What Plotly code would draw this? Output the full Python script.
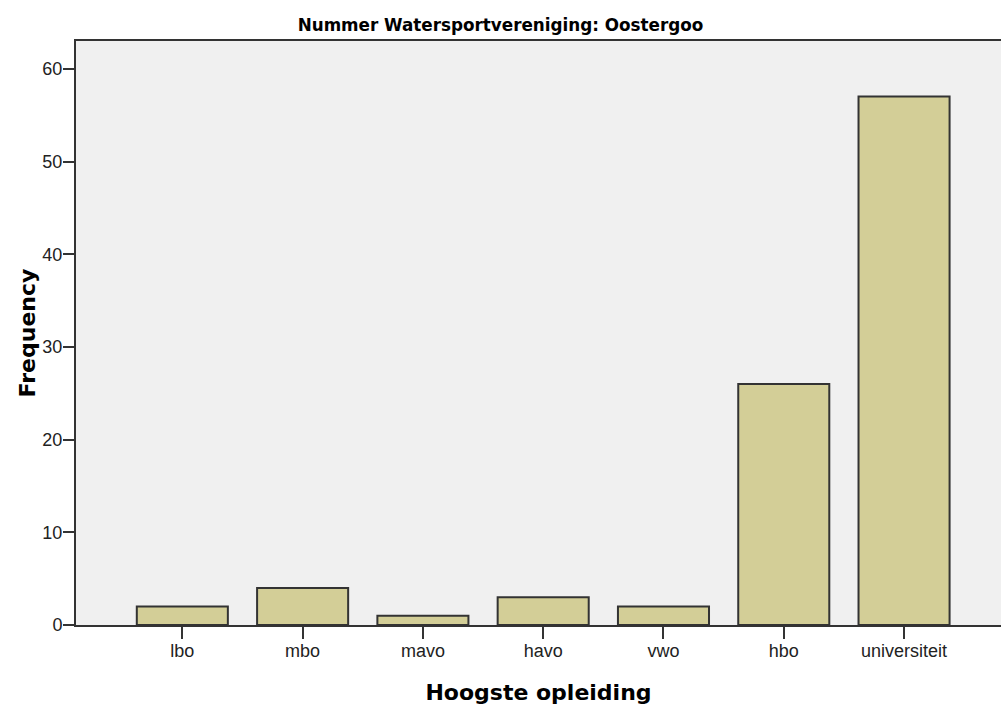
import plotly.graph_objects as go

categories = ["lbo", "mbo", "mavo", "havo", "vwo", "hbo", "universiteit"]
frequencies = [2, 4, 1, 3, 2, 26, 57]
y_ticks = [0, 10, 20, 30, 40, 50, 60]

title_text = "Nummer Watersportvereniging: Oostergoo"
x_title = "Hoogste opleiding"
y_title = "Frequency"

fig = go.Figure()
fig.add_trace(go.Bar(
    x=list(range(len(categories))),
    y=frequencies,
    marker=dict(color="#D3CE97", line=dict(color="#333333", width=2)),
    width=0.757,
    hoverinfo="x+y",
))

fig.update_layout(
    width=1001,
    height=708,
    margin=dict(l=76, r=0, t=41, b=83, pad=0, autoexpand=False),
    paper_bgcolor="white",
    plot_bgcolor="#F0F0F0",
    showlegend=False,
    title=dict(
        text=title_text,
        x=0.5, xref="container", xanchor="center",
        y=1 - 25 / 708, yref="container", yanchor="middle",
        font=dict(family="DejaVu Sans", size=16.8, color="black", weight="bold"),
        automargin=False,
    ),
    font=dict(family="Liberation Sans, Arial", color="#222222"),
)

fig.update_xaxes(
    range=[-0.884, 6.806],
    tickmode="array",
    tickvals=list(range(len(categories))),
    ticktext=categories,
    ticks="outside",
    ticklen=12,
    tickwidth=2,
    tickcolor="#333333",
    tickfont=dict(family="Liberation Sans, Arial", size=18, color="#222222"),
    ticklabelstandoff=-4,
    showline=True,
    linecolor="#333333",
    linewidth=2,
    mirror=True,
    showgrid=False,
    zeroline=False,
    automargin=False,
    title=dict(
        text=x_title,
        font=dict(family="DejaVu Sans", size=22, color="black", weight="bold"),
        standoff=25,
    ),
)

fig.update_yaxes(
    range=[0, 63.0],
    tickmode="array",
    tickvals=y_ticks,
    ticktext=[str(v) for v in y_ticks],
    ticks="outside",
    ticklen=11,
    tickwidth=2,
    tickcolor="#333333",
    tickfont=dict(family="Liberation Sans, Arial", size=18, color="#222222"),
    ticklabelstandoff=-3,
    showline=True,
    linecolor="#333333",
    linewidth=2,
    mirror=False,
    showgrid=False,
    zeroline=False,
    automargin=False,
    title=dict(
        text=y_title,
        font=dict(family="DejaVu Sans", size=22, color="black", weight="bold"),
        standoff=1,
    ),
)

fig.write_html(
    "out.html",
    config={"displayModeBar": False},
    post_script="document.body.style.margin='0';document.body.style.overflow='hidden';",
)
